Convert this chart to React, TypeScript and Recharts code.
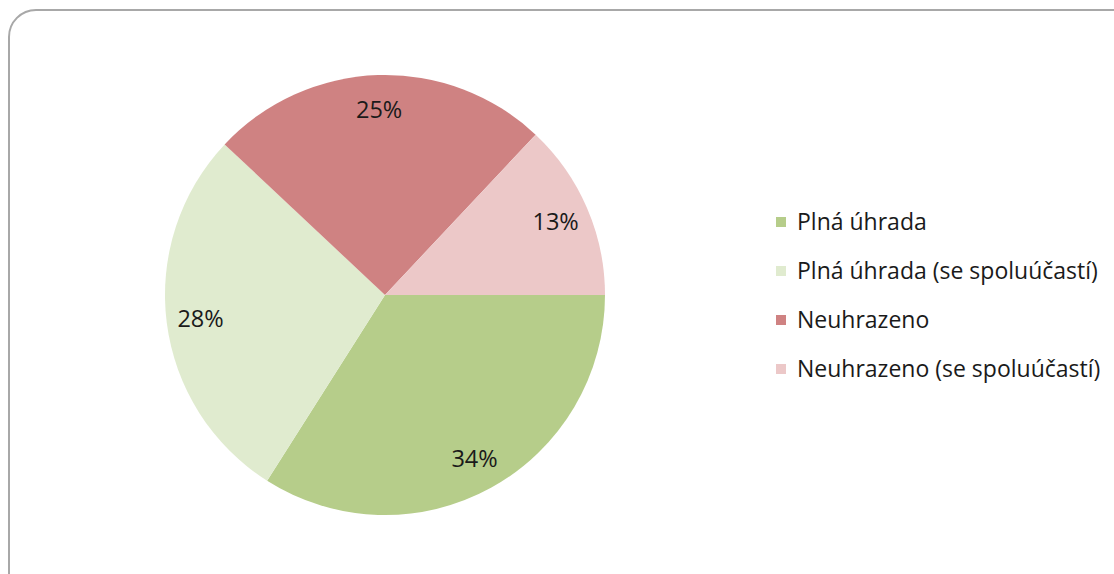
import React from "react";
import { PieChart, Pie, Cell, Legend } from "recharts";

const categories = [
  "Plná úhrada",
  "Plná úhrada (se spoluúčastí)",
  "Neuhrazeno",
  "Neuhrazeno (se spoluúčastí)",
];
const shares = [34, 28, 25, 13];
const colors = ["#B6CD8A", "#E0EBCF", "#CF8282", "#ECC8C8"];

const data = categories.map((name, i) => ({ name, value: shares[i] }));

const FONT = "'Open Sans', 'Noto Sans', sans-serif";
const RADIAN = Math.PI / 180;

function renderLabel(props: any) {
  const { cx, cy, midAngle, outerRadius, value } = props;
  const r = outerRadius * 0.845;
  const x = cx + r * Math.cos(-midAngle * RADIAN);
  const y = cy + r * Math.sin(-midAngle * RADIAN);
  return (
    <text
      x={x}
      y={y}
      textAnchor="middle"
      dominantBaseline="central"
      fill="#1a1a1a"
      fontSize={23.5}
      fontFamily={FONT}
    >
      {`${value}%`}
    </text>
  );
}

function LegendBox() {
  return (
    <div style={{ fontFamily: FONT, fontSize: 23, color: "#1a1a1a" }}>
      {categories.map((c, i) => (
        <div key={c} style={{ display: "flex", alignItems: "center", height: 49, lineHeight: "49px", whiteSpace: "nowrap" }}>
          <span style={{ display: "inline-block", width: 10, height: 10, background: colors[i], marginRight: 11 }} />
          <span>{c}</span>
        </div>
      ))}
    </div>
  );
}

export default function App() {
  return (
    <div style={{ position: "fixed", left: 0, top: 0, width: 1114, height: 574, overflow: "hidden", background: "#fff" }}>
      <div
        style={{
          position: "absolute",
          left: 8,
          top: 9,
          width: 1200,
          height: 700,
          border: "2px solid #a8a8a8",
          borderRadius: 28,
          boxSizing: "border-box",
        }}
      />
      <div style={{ position: "absolute", left: 0, top: 0 }}>
        <PieChart width={1114} height={574} margin={{ top: 0, right: 0, bottom: 0, left: 0 }}>
          <Pie
            data={data}
            dataKey="value"
            nameKey="name"
            cx={385}
            cy={295}
            outerRadius={220}
            startAngle={0}
            endAngle={-360}
            stroke="none"
            label={renderLabel}
            labelLine={false}
            isAnimationActive={false}
          >
            {data.map((d, i) => (
              <Cell key={d.name} fill={colors[i]} />
            ))}
          </Pie>
          <Legend
            content={() => <LegendBox />}
            wrapperStyle={{ left: 776, top: 197, width: 340 }}
          />
        </PieChart>
      </div>
    </div>
  );
}
